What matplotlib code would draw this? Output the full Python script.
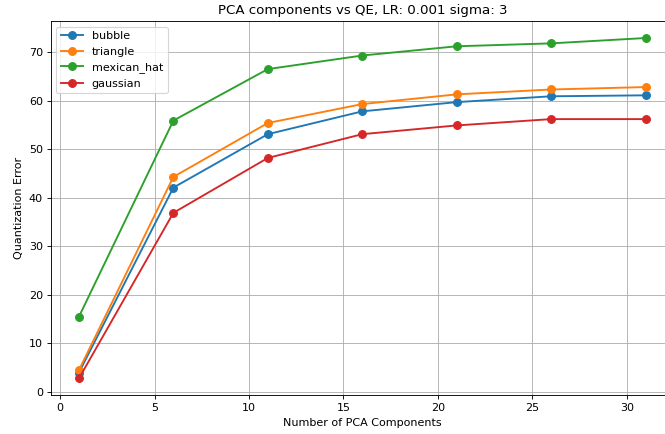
import matplotlib
matplotlib.use("Agg")
import matplotlib.pyplot as plt

components = [1, 6, 11, 16, 21, 26, 31]
bubble = [4.0, 42.1, 53.1, 57.8, 59.7, 60.9, 61.1]
triangle = [4.5, 44.3, 55.4, 59.3, 61.3, 62.3, 62.8]
mexican_hat = [15.5, 55.9, 66.5, 69.3, 71.2, 71.8, 72.9]
gaussian = [2.8, 36.9, 48.2, 53.1, 54.9, 56.2, 56.2]

dpi = 80
fig = plt.figure(figsize=(665 / dpi, 434 / dpi), dpi=dpi)
# axes extends slightly past the right edge of the canvas
ax = fig.add_axes([0.0761, 0.0889, 1.0135 - 0.0761, 0.9516 - 0.0889])

for name, vals in [("bubble", bubble), ("triangle", triangle),
                   ("mexican_hat", mexican_hat), ("gaussian", gaussian)]:
    ax.plot(components, vals, marker="o", markersize=7, linewidth=1.7, label=name)

ax.set_title("PCA components vs QE, LR: 0.001 sigma: 3")
ax.set_xlabel("Number of PCA Components")
ax.set_ylabel("Quantization Error")
ax.grid(True)
ax.legend(loc="upper left")

fig.savefig("out.png", dpi=dpi)
